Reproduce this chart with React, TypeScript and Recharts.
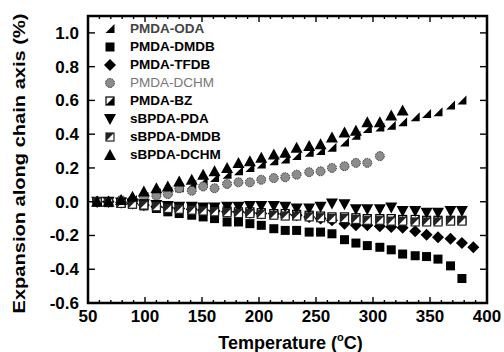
import React from "react";
import { Label, Legend, Scatter, ScatterChart, XAxis, YAxis } from "recharts";

// temperatures (°C) at which the samples were read
const temperatures = [
  58, 68, 79, 89, 99, 110, 120, 130, 141, 151, 161, 172, 182, 192, 202, 213, 223,
  233, 244, 254, 264, 275, 285, 295, 306, 316, 326, 337, 347, 357, 368, 378, 388,
];

// expansion along chain axis (%), one value per temperature, null = not measured
const pmdaOda = [
  0, 0, 0, 0.01, 0.03, 0.05, 0.06, 0.08, 0.1, 0.12, 0.14, 0.16, 0.18, 0.2, 0.22,
  0.24, 0.25, 0.27, 0.29, 0.3, 0.32, 0.35, 0.39, 0.43, 0.44, 0.45, 0.47, 0.5,
  0.52, 0.53, 0.57, 0.6, null,
];
const pmdaDmdb = [
  0, 0, -0.01, -0.015, -0.025, -0.04, -0.06, -0.07, -0.08, -0.09, -0.1, -0.12,
  -0.12, -0.13, -0.14, -0.16, -0.17, -0.17, -0.18, -0.18, -0.19, -0.225, -0.245,
  -0.26, -0.27, -0.285, -0.31, -0.32, -0.325, -0.34, -0.38, -0.455, null,
];
const pmdaTfdb = [
  0, 0, -0.005, -0.01, -0.02, -0.03, -0.035, -0.04, -0.045, -0.05, -0.055, -0.06,
  -0.06, -0.065, -0.07, -0.07, -0.075, -0.08, -0.09, -0.1, -0.11, -0.13, -0.14,
  -0.14, -0.145, -0.15, -0.155, -0.175, -0.195, -0.21, -0.22, -0.245, -0.27,
];
const pmdaDchm = [
  0, 0, 0.01, 0.01, 0.03, 0.035, 0.045, 0.08, 0.065, 0.09, 0.08, 0.105, 0.115,
  0.115, 0.13, 0.14, 0.145, 0.16, 0.175, 0.18, 0.2, 0.21, 0.23, 0.23, 0.27, null,
  null, null, null, null, null, null, null,
];
const pmdaBz = [
  0, 0, -0.005, -0.01, -0.015, -0.02, -0.03, -0.035, -0.04, -0.045, -0.05, -0.055,
  -0.06, -0.06, -0.065, -0.07, -0.07, -0.075, -0.08, -0.085, -0.09, -0.09, -0.095,
  -0.1, -0.1, -0.1, -0.105, -0.105, -0.11, -0.11, -0.11, -0.11, null,
];
const sbpdaPda = [
  0, 0, -0.005, -0.01, -0.015, -0.02, -0.025, -0.03, -0.03, -0.035, -0.035, -0.03,
  -0.03, -0.025, -0.025, -0.025, -0.03, -0.04, -0.04, -0.03, -0.01, -0.015, -0.045,
  -0.045, -0.045, -0.035, -0.055, -0.055, -0.065, -0.065, -0.055, -0.055, null,
];
const sbpdaDmdb = [
  0, -0.005, -0.01, -0.015, -0.02, -0.03, -0.04, -0.045, -0.05, -0.055, -0.06,
  -0.065, -0.07, -0.07, -0.075, -0.08, -0.085, -0.085, -0.09, -0.095, -0.1, -0.1,
  -0.105, -0.11, -0.11, -0.115, -0.115, -0.12, -0.12, -0.12, -0.115, -0.115, null,
];
const sbpdaDchm = [
  0, 0, 0.01, 0.03, 0.06, 0.08, 0.09, 0.12, 0.13, 0.16, 0.18, 0.2, 0.23, 0.24,
  0.26, 0.28, 0.29, 0.32, 0.33, 0.34, 0.38, 0.41, 0.42, 0.47, 0.47, 0.51, 0.54,
  null, null, null, null, null, null,
];

const xTicks = [
  50, 60, 70, 80, 90, 100, 110, 120, 130, 140, 150, 160, 170, 180, 190, 200, 210,
  220, 230, 240, 250, 260, 270, 280, 290, 300, 310, 320, 330, 340, 350, 360, 370,
  380, 390, 400,
];
const xLabels = [50, 100, 150, 200, 250, 300, 350, 400];
const yTicks = [-0.6, -0.4, -0.2, 0, 0.2, 0.4, 0.6, 0.8, 1.0];
const xDomain = [50, 400];
const yDomain = [-0.6, 1.1];

const FONT = '"Liberation Sans", Arial, sans-serif';
const W = 504;
const H = 352;
// plot box edges (follow from the chart margins and axis sizes below)
const PLOT = { left: 88, top: 16, right: 487, bottom: 303 };

type Kind =
  | "corner"
  | "square"
  | "diamond"
  | "circle"
  | "halfLR"
  | "triDown"
  | "halfUL"
  | "triUp";

const series: {
  name: string;
  values: (number | null)[];
  kind: Kind;
  color: string;
  weight: string;
}[] = [
  { name: "PMDA-ODA", values: pmdaOda, kind: "corner", color: "#444", weight: "bold" },
  { name: "PMDA-DMDB", values: pmdaDmdb, kind: "square", color: "#000", weight: "bold" },
  { name: "PMDA-TFDB", values: pmdaTfdb, kind: "diamond", color: "#000", weight: "bold" },
  { name: "PMDA-DCHM", values: pmdaDchm, kind: "circle", color: "#777", weight: "normal" },
  { name: "PMDA-BZ", values: pmdaBz, kind: "halfLR", color: "#000", weight: "bold" },
  { name: "sBPDA-PDA", values: sbpdaPda, kind: "triDown", color: "#000", weight: "bold" },
  { name: "sBPDA-DMDB", values: sbpdaDmdb, kind: "halfUL", color: "#000", weight: "bold" },
  { name: "sBPDA-DCHM", values: sbpdaDchm, kind: "triUp", color: "#000", weight: "bold" },
];

function toPoints(values: (number | null)[]) {
  const pts: { t: number; v: number }[] = [];
  values.forEach((v, i) => {
    if (v !== null) pts.push({ t: temperatures[i], v });
  });
  return pts;
}

function Marker({ kind, cx, cy }: { kind: Kind; cx: number; cy: number }) {
  switch (kind) {
    case "corner":
      return (
        <polygon
          points={`${cx - 4.5},${cy + 4} ${cx + 4.5},${cy + 4} ${cx + 4.5},${cy - 5}`}
          fill="#000"
        />
      );
    case "square":
      return <rect x={cx - 4.5} y={cy - 4.5} width={9} height={9} fill="#000" />;
    case "diamond":
      return (
        <polygon
          points={`${cx},${cy - 6} ${cx + 6},${cy} ${cx},${cy + 6} ${cx - 6},${cy}`}
          fill="#000"
        />
      );
    case "circle":
      return (
        <circle
          cx={cx}
          cy={cy}
          r={4.5}
          fill="#8c8c8c"
          stroke="#333"
          strokeWidth={1}
          strokeDasharray="1.5 1"
        />
      );
    case "halfLR":
      return (
        <g>
          <rect x={cx - 4} y={cy - 4} width={8} height={8} fill="#fff" stroke="#000" strokeWidth={1.2} />
          <polygon points={`${cx + 4},${cy - 4} ${cx + 4},${cy + 4} ${cx - 4},${cy + 4}`} fill="#000" />
        </g>
      );
    case "halfUL":
      return (
        <g>
          <rect x={cx - 4} y={cy - 4} width={8} height={8} fill="#fff" stroke="#222" strokeWidth={1.2} />
          <polygon points={`${cx - 4},${cy - 4} ${cx + 4},${cy - 4} ${cx - 4},${cy + 4}`} fill="#222" />
        </g>
      );
    case "triDown":
      return (
        <polygon
          points={`${cx - 6},${cy - 5} ${cx + 6},${cy - 5} ${cx},${cy + 6}`}
          fill="#000"
        />
      );
    default:
      return (
        <polygon
          points={`${cx - 6},${cy + 5} ${cx + 6},${cy + 5} ${cx},${cy - 6}`}
          fill="#000"
        />
      );
  }
}

const tickText = { fontFamily: FONT, fontWeight: "bold", fontSize: 17, fill: "#000" } as const;

function BottomTick({ x, y, payload }: any) {
  if (!xLabels.includes(payload.value)) return <g />;
  return (
    <text x={x} y={y + 19} textAnchor="middle" {...tickText}>
      {payload.value}
    </text>
  );
}

function LeftTick({ x, y, payload }: any) {
  return (
    <text x={x - 9} y={y + 6} textAnchor="end" {...tickText}>
      {payload.value.toFixed(1)}
    </text>
  );
}

function XTitle({ viewBox }: any) {
  const cx = viewBox.x + viewBox.width / 2 + 3;
  return (
    <text
      x={cx}
      y={viewBox.y + 46}
      textAnchor="middle"
      fontFamily={FONT}
      fontWeight="bold"
      fontSize={18}
      fill="#000"
    >
      Temperature (
      <tspan fontSize={11} dy={-8}>
        o
      </tspan>
      <tspan dy={8}>C)</tspan>
    </text>
  );
}

function YTitle({ viewBox }: any) {
  const cy = viewBox.y + viewBox.height / 2 + 4;
  return (
    <text
      x={0}
      y={0}
      transform={`translate(25, ${cy}) rotate(-90)`}
      textAnchor="middle"
      fontFamily={FONT}
      fontWeight="bold"
      fontSize={16}
      textLength={300}
      lengthAdjust="spacingAndGlyphs"
      fill="#000"
    >
      Expansion along chain axis (%)
    </text>
  );
}

const renderLegend = () => (
  <div style={{ fontFamily: FONT, fontSize: 13.5 }}>
    {series.map((s) => (
      <div key={s.name} style={{ display: "flex", alignItems: "center", height: 18 }}>
        <svg width={20} height={18}>
          <Marker kind={s.kind} cx={10} cy={9} />
        </svg>
        <span style={{ marginLeft: 10, color: s.color, fontWeight: s.weight as any, lineHeight: "18px" }}>
          {s.name}
        </span>
      </div>
    ))}
  </div>
);

// box frame with inward ticks on all four sides, laid over the chart
function Frame() {
  const sx = (t: number) =>
    PLOT.left + ((t - xDomain[0]) / (xDomain[1] - xDomain[0])) * (PLOT.right - PLOT.left);
  const sy = (v: number) =>
    PLOT.bottom - ((v - yDomain[0]) / (yDomain[1] - yDomain[0])) * (PLOT.bottom - PLOT.top);
  return (
    <svg
      width={W}
      height={H}
      style={{ position: "absolute", left: 0, top: 0, pointerEvents: "none", zIndex: 5 }}
    >
      {xTicks.map((t) => {
        const len = xLabels.includes(t) ? 6 : 3;
        const x = sx(t);
        return (
          <g key={`x${t}`}>
            <line x1={x} x2={x} y1={PLOT.bottom} y2={PLOT.bottom - len} stroke="#000" strokeWidth={1.4} />
            <line x1={x} x2={x} y1={PLOT.top} y2={PLOT.top + len} stroke="#000" strokeWidth={1.4} />
          </g>
        );
      })}
      {yTicks.map((v) => {
        const y = sy(v);
        return (
          <g key={`y${v}`}>
            <line x1={PLOT.left} x2={PLOT.left + 7} y1={y} y2={y} stroke="#000" strokeWidth={1.4} />
            <line x1={PLOT.right} x2={PLOT.right - 7} y1={y} y2={y} stroke="#000" strokeWidth={1.4} />
          </g>
        );
      })}
      <rect
        x={PLOT.left}
        y={PLOT.top}
        width={PLOT.right - PLOT.left}
        height={PLOT.bottom - PLOT.top}
        fill="none"
        stroke="#000"
        strokeWidth={2.5}
      />
    </svg>
  );
}

export default function App() {
  return (
    <div style={{ position: "absolute", left: 0, top: 0, width: W, height: H, background: "#fff" }}>
      <ScatterChart
        width={W}
        height={H}
        margin={{ top: PLOT.top, right: W - PLOT.right, bottom: 0, left: 0 }}
      >
        <XAxis
          xAxisId="b"
          type="number"
          dataKey="t"
          domain={xDomain}
          ticks={xTicks}
          interval={0}
          height={H - PLOT.bottom}
          tickSize={0}
          tickMargin={0}
          axisLine={false}
          tick={<BottomTick />}
        >
          <Label content={<XTitle />} />
        </XAxis>
        <YAxis
          yAxisId="l"
          type="number"
          dataKey="v"
          domain={yDomain}
          ticks={yTicks}
          interval={0}
          width={PLOT.left}
          tickSize={0}
          tickMargin={0}
          axisLine={false}
          tick={<LeftTick />}
        >
          <Label content={<YTitle />} />
        </YAxis>
        <Legend
          layout="vertical"
          align="center"
          verticalAlign="middle"
          content={renderLegend}
          wrapperStyle={{ position: "absolute", left: 100, top: 20, width: 160 }}
        />
        {series.map((s) => (
          <Scatter
            key={s.name}
            name={s.name}
            xAxisId="b"
            yAxisId="l"
            data={toPoints(s.values)}
            isAnimationActive={false}
            shape={(p: any) => <Marker kind={s.kind} cx={p.cx} cy={p.cy} />}
          />
        ))}
      </ScatterChart>
      <Frame />
    </div>
  );
}
